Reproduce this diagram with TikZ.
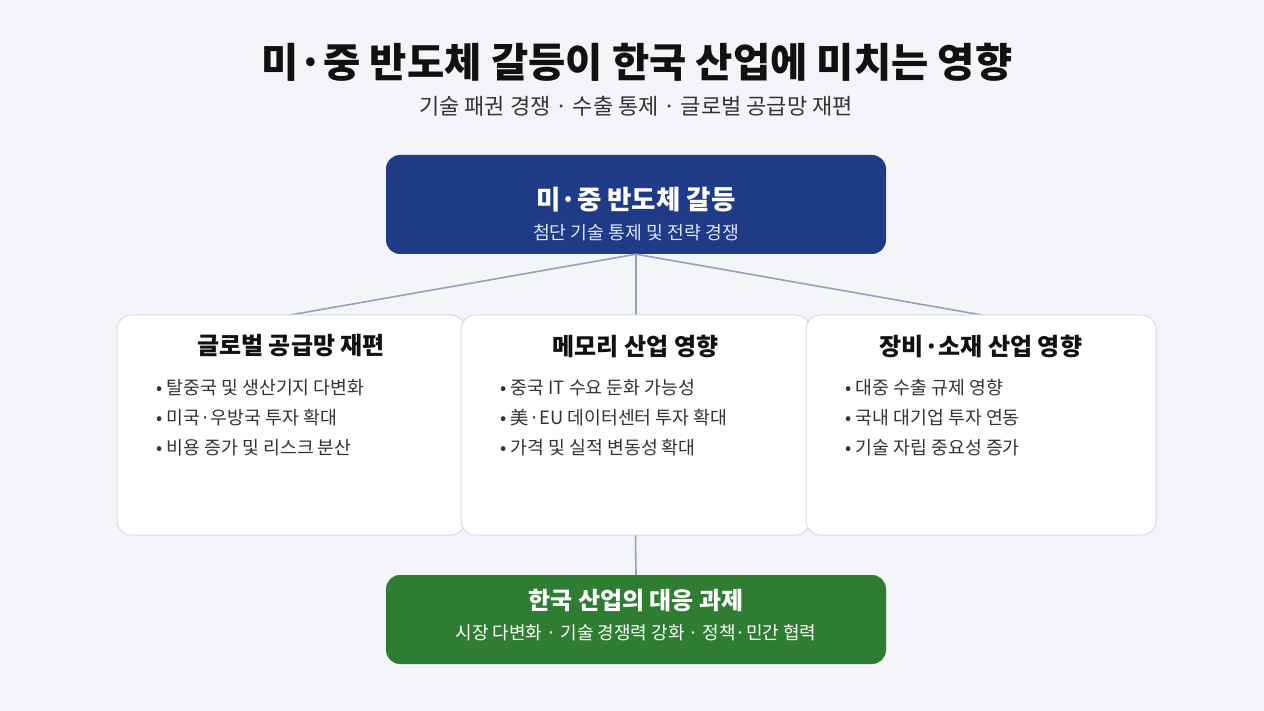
\documentclass[tikz,border=0pt]{standalone}
\usepackage{fontspec}
\setmainfont{Noto Sans CJK KR}
\definecolor{bg}{HTML}{F3F5F9}
\definecolor{navy}{HTML}{1F3A87}
\definecolor{grn}{HTML}{2E7D32}
\definecolor{cardline}{HTML}{D3DAE8}
\definecolor{conn}{HTML}{94A3BD}
\definecolor{txt}{HTML}{111111}
\definecolor{body}{HTML}{333333}
\definecolor{subw}{HTML}{DCE4FA}
\begin{document}
\begin{tikzpicture}[x=1pt,y=-1pt,
  card/.style={draw=cardline,line width=1pt,fill=white,rounded corners=14pt},
  conline/.style={draw=conn,line width=1.6pt},
  cardtitle/.style={font=\fontsize{24}{28}\selectfont\bfseries,text=txt,anchor=center},
  bul/.style={font=\fontsize{18.3}{22}\selectfont,text=body,anchor=west}]
\fill[bg] (0,0) rectangle (1264,711);
\useasboundingbox (0,0) rectangle (1264,711);
\node[font=\fontsize{40.5}{45}\selectfont\bfseries,text=txt] (title) at (637,62) {미·중 반도체 갈등이 한국 산업에 미치는 영향};
\node[font=\fontsize{22}{26}\selectfont,text=body] (subtitle) at (636,106) {기술 패권 경쟁 · 수출 통제 · 글로벌 공급망 재편};
% top box
\node[fill=navy,rounded corners=14pt,minimum width=500pt,minimum height=99pt,inner sep=0pt] (top) at (636,204.5) {};
\node[font=\fontsize{26.5}{30}\selectfont\bfseries,text=white] (toptitle) at (636,200) {미·중 반도체 갈등};
\node[font=\fontsize{18.3}{22}\selectfont,text=subw] (topsub) at (636,233) {첨단 기술 통제 및 전략 경쟁};
% connectors
\coordinate (c1) at (290,315);
\coordinate (c2) at (636,315);
\coordinate (c3) at (982,315);
\draw[conline] (top.south) -- (c1);
\draw[conline] (top.south) -- (c2);
\draw[conline] (top.south) -- (c3);
% cards
\node[card,minimum width=348pt,minimum height=220pt,inner sep=0pt] (cardA) at (291,425) {};
\node[card,minimum width=349pt,minimum height=220pt,inner sep=0pt] (cardB) at (635.5,425) {};
\node[card,minimum width=350pt,minimum height=220pt,inner sep=0pt] (cardC) at (981,425) {};
\node[cardtitle] (tA) at (291,346) {글로벌 공급망 재편};
\node[cardtitle] (tB) at (635.5,346) {메모리 산업 영향};
\node[cardtitle] (tC) at (981,346) {장비·소재 산업 영향};
\node[bul] (a1) at (153,388) {• 탈중국 및 생산기지 다변화};
\node[bul] (a2) at (153,418) {• 미국·우방국 투자 확대};
\node[bul] (a3) at (153,448) {• 비용 증가 및 리스크 분산};
\node[bul] (b1) at (497,388) {• 중국 IT 수요 둔화 가능성};
\node[bul] (b2) at (497,418) {• 美·EU 데이터센터 투자 확대};
\node[bul] (b3) at (497,448) {• 가격 및 실적 변동성 확대};
\node[bul] (c1t) at (842,388) {• 대중 수출 규제 영향};
\node[bul] (c2t) at (842,418) {• 국내 대기업 투자 연동};
\node[bul] (c3t) at (842,448) {• 기술 자립 중요성 증가};
% bottom box
\node[fill=grn,rounded corners=14pt,minimum width=500pt,minimum height=89pt,inner sep=0pt] (bot) at (636,619.5) {};
\draw[conline] (cardB.south) -- (bot.north);
\node[font=\fontsize{24}{28}\selectfont\bfseries,text=white] (bottitle) at (636,601) {한국 산업의 대응 과제};
\node[font=\fontsize{18}{22}\selectfont,text=white] (botsub) at (636,633) {시장 다변화 · 기술 경쟁력 강화 · 정책·민간 협력};
\end{tikzpicture}
\end{document}
